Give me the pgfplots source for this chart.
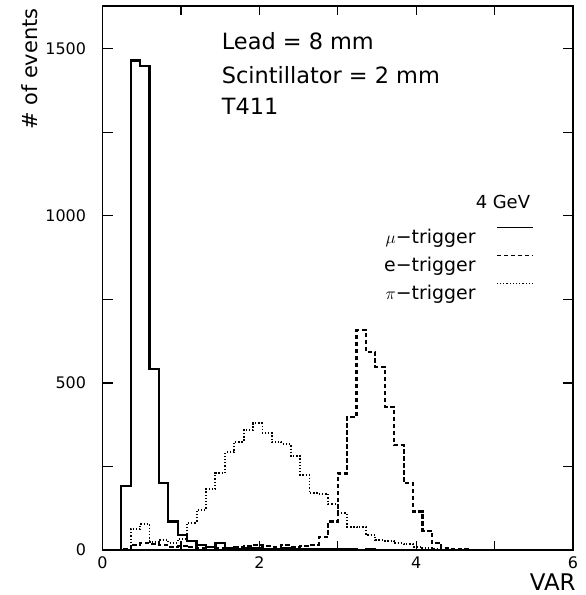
\documentclass[border=0pt]{standalone}
\usepackage{fontspec}
\setmainfont{DejaVu Sans}
\usepackage{pgfplots}
\pgfplotsset{compat=1.18}
\usepackage{pgfplotstable}

\pgfplotstableread{
x mu e pi
0.00 0 0 0
0.12 0 0 0
0.24 192 2 3
0.36 1465 15 63
0.48 1449 20 78
0.60 541 18 25
0.72 200 14 30
0.84 85 10 22
0.96 44 12 33
1.08 27 8 82
1.20 15 6 120
1.32 10 8 182
1.44 20 7 230
1.56 5 6 292
1.68 4 10 324
1.80 6 12 359
1.92 5 15 379
2.04 4 12 350
2.16 3 10 323
2.28 5 14 318
2.40 3 10 282
2.52 4 12 224
2.64 3 15 170
2.76 2 38 168
2.88 3 85 138
3.00 2 229 110
3.12 2 399 70
3.24 1 658 68
3.36 2 593 45
3.48 1 548 30
3.60 1 429 28
3.72 1 314 20
3.84 1 200 17
3.96 1 115 10
4.08 0 58 5
4.20 0 20 3
4.32 0 6 1
4.44 0 3 0
4.56 0 2 0
4.68 0 1 0
4.80 0 0 0
6.00 0 0 0
}\hist

\begin{document}
\begin{tikzpicture}
\useasboundingbox (-102.5bp,-45bp) rectangle (483.5bp,550bp);
\begin{axis}[
  at={(0,0)}, anchor=south west,
  scale only axis, width=470.5bp, height=544bp,
  xmin=0, xmax=6, ymin=0, ymax=1628,
  xtick={0,1,2,3,4,5,6}, xticklabels={0,,2,,4,,6},
  ytick={0,250,500,750,1000,1250,1500}, yticklabels={0,,500,,1000,,1500},
  tick align=inside,
  major tick length=0.32cm,
  axis line style={line width=1.5bp},
  every tick/.append style={black, line width=1.3bp},
  ticklabel style={font=\fontsize{16}{18}\selectfont},
  yticklabel style={xshift=-13bp},
  xticklabel style={yshift=-3bp},
  xlabel={VAR},
  xlabel style={at={(rel axis cs:1.006,-0.044)}, anchor=north east, inner sep=0pt, font=\fontsize{23}{25}\selectfont},
  ylabel={\# of events},
  ylabel style={at={(rel axis cs:-0.137,0.996)}, anchor=south east, inner sep=0pt, font=\fontsize{21}{23}\selectfont},
  legend style={at={(axis cs:5.494,966)}, anchor=north east, draw=none, fill=none,
    inner sep=0pt, outer sep=0pt, row sep=7bp, column sep=0pt,
    font=\fontsize{19}{21}\selectfont,
    nodes={inner sep=0pt, text height=14bp, text depth=5bp}},
  legend plot pos=right, legend cell align=right,
  legend image code/.code={\path (-20bp,0bp); \draw[#1, line width=1.1bp] (0bp,11bp) -- (36bp,11bp);},
]
\addplot[const plot, black, line width=2.2bp] table[x=x, y=mu] {\hist};
\addlegendentry{$\mu$−trigger}
\addplot[const plot, black, line width=2.2bp, dash pattern=on 4.5bp off 2.5bp] table[x=x, y=e] {\hist};
\addlegendentry{e−trigger}
\addplot[const plot, black, line width=1.9bp, dash pattern=on 1.3bp off 1.9bp] table[x=x, y=pi] {\hist};
\addlegendentry{$\pi$−trigger}

\pgfplotsinvokeforeach{0,1,2,3,4,5,6}{
  \draw[black, line width=1.3bp] (axis cs:#1,0) -- ++(0bp,7bp);
  \draw[black, line width=1.3bp] (axis cs:#1,1628) -- ++(0bp,-7bp);
}
\pgfplotsinvokeforeach{0,250,500,750,1000,1250,1500}{
  \draw[black, line width=1.3bp] (axis cs:0,#1) -- ++(11bp,0bp);
  \draw[black, line width=1.3bp] (axis cs:6,#1) -- ++(-10bp,0bp);
}

\node[anchor=base west, inner sep=0pt, font=\fontsize{22.5}{24}\selectfont] at (axis cs:1.52,1497) {Lead = 8 mm};
\node[anchor=base west, inner sep=0pt, font=\fontsize{22.5}{24}\selectfont] at (axis cs:1.52,1397) {Scintillator = 2 mm};
\node[anchor=base west, inner sep=0pt, font=\fontsize{22.5}{24}\selectfont] at (axis cs:1.52,1302) {T411};
\node[anchor=base east, inner sep=0pt, font=\fontsize{18}{20}\selectfont] at (axis cs:5.455,1022) {4 GeV};
\end{axis}
\end{tikzpicture}
\end{document}
